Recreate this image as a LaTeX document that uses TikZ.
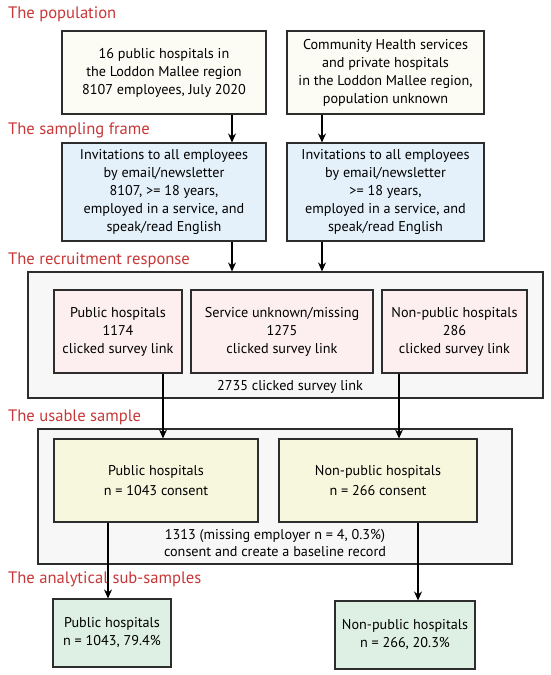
\documentclass[tikz,border=0pt]{standalone}
\usepackage{fontspec}
\setmainfont{PT Sans}
\usetikzlibrary{arrows.meta}
\pgfdeclarelayer{background}
\pgfsetlayers{background,main}

\definecolor{titlered}{RGB}{200,55,55}
\definecolor{popfill}{RGB}{252,251,244}
\definecolor{framefill}{RGB}{228,241,250}
\definecolor{respfill}{RGB}{253,238,240}
\definecolor{groupfill}{RGB}{247,247,247}
\definecolor{usefill}{RGB}{247,247,222}
\definecolor{subfill}{RGB}{222,240,228}
\definecolor{edge}{RGB}{45,45,45}

\tikzset{
    stage/.style={anchor=west,text=titlered,font=\fontsize{16.6}{18}\selectfont,inner sep=0pt},
    box/.style={draw=edge,line width=1.1pt,align=center,inner sep=0pt,font=\fontsize{14.2}{18}\selectfont},
    arr/.style={-{Stealth[length=9pt,width=8pt]},line width=1.1pt,draw=black}
}

\begin{document}
\begin{tikzpicture}[x=1pt,y=-1pt]
        \useasboundingbox (0,0) rectangle (550,675);

        % stage titles
        \node[stage] (t1) at (8,14) {The population};
        \node[stage] (t2) at (8,130) {The sampling frame};
        \node[stage] (t3) at (8,260) {The recruitment response};
        \node[stage] (t4) at (8,417) {The usable sample};
        \node[stage] (t5) at (8,579) {The analytical sub-samples};

        % population
        \node[box,fill=popfill,minimum width=204pt,minimum height=83pt] (pop1) at (164,72.5) {16 public hospitals in\\the Loddon Mallee region\\8107 employees, July 2020};
        \node[box,fill=popfill,minimum width=197pt,minimum height=83pt] (pop2) at (385.5,72.5) {Community Health services\\and private hospitals\\in the Loddon Mallee region,\\population unknown};

        % sampling frame
        \node[box,fill=framefill,minimum width=204pt,minimum height=98pt] (frame1) at (164,192) {Invitations to all employees\\by email/newsletter\\8107, >= 18 years,\\employed in a service, and\\speak/read English};
        \node[box,fill=framefill,minimum width=197pt,minimum height=98pt] (frame2) at (385.5,192) {Invitations to all employees\\by email/newsletter\\>= 18 years,\\employed in a service, and\\speak/read English};

        % recruitment response
        \node[box,fill=respfill,minimum width=128pt,minimum height=83pt] (resp1) at (118,331.5) {Public hospitals\\1174\\clicked survey link};
        \node[box,fill=respfill,minimum width=182pt,minimum height=83pt] (resp2) at (282,331.5) {Service unknown/missing\\1275\\clicked survey link};
        \node[box,fill=respfill,minimum width=145pt,minimum height=83pt] (resp3) at (454.5,331.5) {Non-public hospitals\\286\\clicked survey link};

        % usable sample
        \node[box,fill=usefill,minimum width=204pt,minimum height=83pt,font=\fontsize{14.2}{20}\selectfont] (use1) at (156,480.5) {Public hospitals\\n = 1043 consent};
        \node[box,fill=usefill,minimum width=198pt,minimum height=83pt,font=\fontsize{14.2}{20}\selectfont] (use2) at (378,480.5) {Non-public hospitals\\n = 266 consent};

        % analytical sub-samples
        \node[box,fill=subfill,minimum width=118pt,minimum height=68pt] (sub1) at (112,633) {Public hospitals\\n = 1043, 79.4\%};
        \node[box,fill=subfill,minimum width=140pt,minimum height=68pt] (sub2) at (405,635) {Non-public hospitals\\n = 266, 20.3\%};

        \begin{pgfonlayer}{background}
            \node[box,fill=groupfill,minimum width=515pt,minimum height=126pt] (respall) at (285.5,335) {};
            \node[font=\fontsize{14.2}{17}\selectfont] at (290,387) {2735 clicked survey link};

            \node[box,fill=groupfill,minimum width=474pt,minimum height=135pt] (useall) at (275,496.5) {};
            \node[align=center,font=\fontsize{14.2}{17}\selectfont] at (275,543.5) {1313 (missing employer n = 4, 0.3\%)\\consent and create a baseline record};
        \end{pgfonlayer}

        % arrow columns
        \coordinate (colL) at (232,0);
        \coordinate (colR) at (322,0);
        \coordinate (colP) at (163,0);
        \coordinate (colN) at (399,0);
        \coordinate (colPo) at (108,0);
        \coordinate (colNo) at (418,0);

        \draw[arr] (pop1.south -| colL) -- (frame1.north -| colL);
        \draw[arr] (pop2.south -| colR) -- (frame2.north -| colR);
        \draw[arr] (frame1.south -| colL) -- (respall.north -| colL);
        \draw[arr] (frame2.south -| colR) -- (respall.north -| colR);
        \draw[arr] (resp1.south -| colP) -- (use1.north -| colP);
        \draw[arr] (resp3.south -| colN) -- (use2.north -| colN);
        \draw[arr] (use1.south -| colPo) -- (sub1.north -| colPo);
        \draw[arr] (use2.south -| colNo) -- (sub2.north -| colNo);
    \end{tikzpicture}
\end{document}
